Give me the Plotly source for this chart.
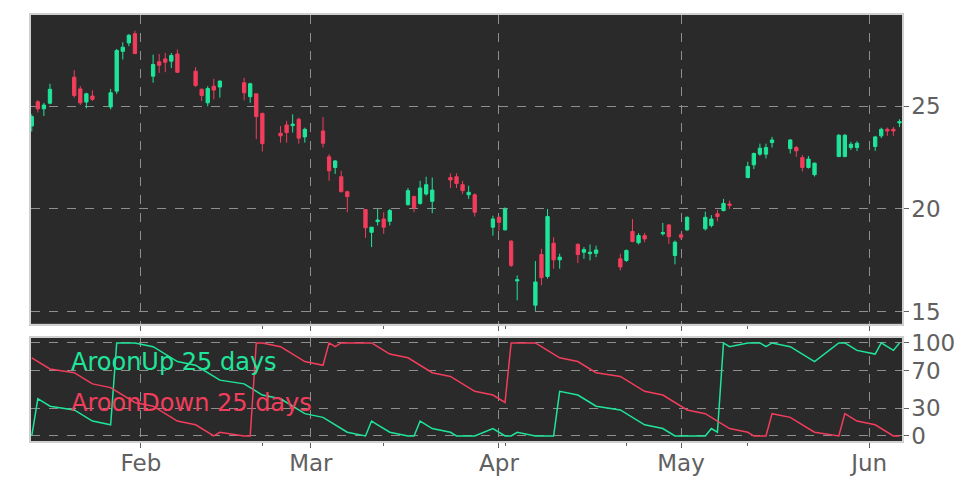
import plotly.graph_objects as go

# trading days shown on the chart (2025)
dates = [
    "2025-01-14", "2025-01-15", "2025-01-16", "2025-01-17", "2025-01-21", "2025-01-22", "2025-01-23",
    "2025-01-24", "2025-01-27", "2025-01-28", "2025-01-29", "2025-01-30", "2025-01-31",
    "2025-02-03", "2025-02-04", "2025-02-05", "2025-02-06", "2025-02-07", "2025-02-10", "2025-02-11",
    "2025-02-12", "2025-02-13", "2025-02-14", "2025-02-18", "2025-02-19", "2025-02-20", "2025-02-21",
    "2025-02-24", "2025-02-25", "2025-02-26", "2025-02-27", "2025-02-28",
    "2025-03-03", "2025-03-04", "2025-03-05", "2025-03-06", "2025-03-07", "2025-03-10", "2025-03-11",
    "2025-03-12", "2025-03-13", "2025-03-14", "2025-03-17", "2025-03-18", "2025-03-19", "2025-03-20",
    "2025-03-21", "2025-03-24", "2025-03-25", "2025-03-26", "2025-03-27", "2025-03-28", "2025-03-31",
    "2025-04-01", "2025-04-02", "2025-04-03", "2025-04-04", "2025-04-07", "2025-04-08", "2025-04-09",
    "2025-04-10", "2025-04-11", "2025-04-14", "2025-04-15", "2025-04-16", "2025-04-17", "2025-04-21",
    "2025-04-22", "2025-04-23", "2025-04-24", "2025-04-25", "2025-04-28", "2025-04-29", "2025-04-30",
    "2025-05-01", "2025-05-02", "2025-05-05", "2025-05-06", "2025-05-07", "2025-05-08", "2025-05-09",
    "2025-05-12", "2025-05-13", "2025-05-14", "2025-05-15", "2025-05-16", "2025-05-19", "2025-05-20",
    "2025-05-21", "2025-05-22", "2025-05-23", "2025-05-27", "2025-05-28", "2025-05-29", "2025-05-30",
    "2025-06-02", "2025-06-03", "2025-06-04", "2025-06-05", "2025-06-06",
]

open_ = [
    24.04, 25.22, 24.88, 25.15, 26.42, 25.85, 25.21, 25.50, 24.97, 25.74, 27.68, 28.09, 28.54,
    26.47, 27.17, 27.31, 27.20, 27.55, 26.71, 25.83, 25.17, 25.98, 25.94, 26.15, 25.47, 25.61, 24.66,
    23.69, 24.09, 24.06, 24.37, 23.51,
    23.80, 22.54, 22.02, 21.57, 20.84, 19.97, 18.86, 19.38, 19.51, 19.40, 20.21, 20.60, 20.27, 20.73,
    20.37, 21.53, 21.57, 21.18, 20.69, 20.69, 19.11,
    19.59, 18.98, 18.43, 16.49, 15.31, 17.78, 16.71, 18.33, 17.52, 18.27, 17.89, 17.82, 17.84, 17.57,
    17.49, 18.90, 18.35, 18.70, 18.79, 19.22, 17.73,
    18.74, 18.98, 19.03, 19.19, 19.76, 19.92, 20.24, 21.53, 22.15, 22.67, 22.67, 23.23, 22.94, 22.99,
    22.50, 22.02, 21.67, 22.55, 22.55, 22.99, 22.99,
    23.04, 23.56, 23.88, 23.88, 24.19,
]
high = [
    24.61, 25.30, 25.17, 26.10, 26.76, 25.98, 25.66, 25.78, 25.85, 27.80, 28.12, 28.52, 28.69,
    27.52, 27.55, 27.60, 27.60, 27.77, 26.91, 25.87, 25.98, 26.34, 26.26, 26.39, 26.15, 25.61, 24.66,
    24.04, 24.29, 24.61, 24.45, 23.96,
    24.48, 22.67, 22.38, 21.86, 20.89, 20.00, 19.11, 20.00, 19.84, 20.00, 21.02, 20.65, 21.37, 21.57,
    21.53, 21.73, 21.73, 21.37, 21.13, 20.76, 19.67,
    19.63, 20.08, 18.48, 16.76, 17.46, 18.06, 20.00, 18.62, 17.82, 18.33, 18.14, 18.27, 18.21, 17.82,
    18.02, 19.51, 18.82, 18.83, 19.32, 19.27, 18.46,
    18.80, 19.64, 19.87, 19.70, 19.95, 20.49, 20.40, 22.30, 22.75, 23.18, 23.18, 23.51, 23.40, 23.07,
    22.62, 22.58, 22.26, 23.65, 23.65, 23.27, 23.30,
    23.56, 23.96, 23.96, 23.99, 24.37,
]
low = [
    23.77, 24.70, 24.53, 25.10, 25.42, 25.06, 24.90, 25.26, 24.85, 25.60, 27.28, 27.93, 27.57,
    26.15, 26.63, 26.66, 26.87, 26.63, 25.94, 25.26, 25.00, 25.34, 25.42, 25.29, 25.17, 23.40, 22.80,
    23.23, 23.23, 23.72, 23.18, 23.23,
    22.99, 21.37, 21.70, 20.81, 19.84, 18.59, 18.14, 19.19, 18.79, 19.19, 20.16, 19.84, 20.21, 20.65,
    19.79, 21.02, 21.02, 20.73, 20.49, 19.63, 18.70,
    18.95, 18.95, 17.17, 15.55, 15.03, 16.28, 16.60, 17.09, 17.09, 17.36, 17.57, 17.49, 17.65, 17.00,
    17.42, 18.38, 18.27, 18.38, 18.70, 18.30, 17.30,
    18.50, 18.93, 18.95, 19.10, 19.40, 19.88, 20.00, 21.49, 21.94, 22.59, 22.46, 22.99, 22.70, 22.54,
    21.83, 21.97, 21.58, 22.55, 22.55, 22.87, 22.82,
    22.83, 23.45, 23.56, 23.56, 23.99,
]
close = [
    24.50, 24.88, 25.06, 25.83, 25.53, 25.17, 25.61, 25.34, 25.66, 27.72, 27.88, 28.46, 27.57,
    27.04, 27.00, 27.15, 27.48, 26.66, 26.02, 25.53, 25.87, 25.79, 26.23, 25.66, 26.10, 24.50, 23.18,
    23.56, 23.72, 24.13, 23.45, 23.88,
    23.20, 21.86, 22.34, 20.84, 20.60, 19.08, 19.11, 19.46, 19.11, 19.92, 20.89, 20.05, 21.02, 21.18,
    20.92, 21.41, 21.24, 20.89, 20.81, 19.84, 19.51,
    19.35, 20.00, 17.25, 16.55, 16.44, 16.65, 19.63, 17.52, 17.65, 17.78, 18.02, 17.89, 18.00, 17.17,
    17.98, 18.41, 18.70, 18.54, 18.84, 18.65, 18.38,
    18.62, 19.59, 19.59, 19.51, 19.63, 20.27, 20.18, 22.07, 22.70, 22.96, 22.99, 23.36, 23.36, 22.83,
    22.02, 22.43, 22.23, 23.59, 23.59, 23.15, 23.20,
    23.51, 23.88, 23.80, 23.80, 24.25,
]

aroon_up = [
    0, 40, 36, 32, 28, 24, 20, 16, 12, 100, 100, 100, 100,
    96, 92, 88, 84, 80, 76, 72, 68, 64, 60, 56, 52, 48, 44, 40, 36, 32, 28, 24,
    20, 16, 12, 8, 4, 0, 16, 12, 8, 4, 0, 0, 16, 12, 8, 4, 0, 0, 0, 0, 8,
    4, 0, 0, 4, 0, 0, 0, 0, 48, 44, 40, 36, 32, 28, 24, 20, 16, 12, 8, 4, 0,
    0, 0, 0, 8, 4, 100, 96, 100, 100, 100, 96, 100, 96, 92, 88, 84, 80, 100, 100, 96, 92,
    88, 100, 96, 92, 100,
]
aroon_down = [
    84, 80, 76, 72, 68, 64, 60, 56, 52, 48, 44, 40, 36,
    32, 28, 24, 20, 16, 12, 8, 4, 0, 4, 0, 0, 100, 100, 96, 92, 88, 84, 80,
    76, 100, 96, 100, 100, 100, 100, 96, 92, 88, 84, 80, 76, 72, 68, 64, 60, 56, 52, 48, 44,
    40, 36, 100, 100, 100, 96, 92, 88, 84, 80, 76, 72, 68, 64, 60, 56, 52, 48, 44, 40, 36,
    32, 28, 24, 20, 16, 12, 8, 4, 0, 0, 0, 24, 20, 16, 12, 8, 4, 0, 24, 20, 16,
    12, 8, 4, 0, 0,
]

up_color = "#1fe59a"
down_color = "#f23d5c"
grid_color = "#8e8e8e"
text_color = "#606060"
frame_color = "#cfcfcf"

fig = go.Figure()
fig.add_trace(go.Candlestick(
    x=dates, open=open_, high=high, low=low, close=close,
    increasing=dict(line=dict(color=up_color, width=1), fillcolor=up_color),
    decreasing=dict(line=dict(color=down_color, width=1), fillcolor=down_color),
    whiskerwidth=0, showlegend=False, xaxis="x", yaxis="y"))
fig.add_trace(go.Scatter(x=dates, y=aroon_up, mode="lines", line=dict(color=up_color, width=1.5),
                         showlegend=False, xaxis="x2", yaxis="y2"))
fig.add_trace(go.Scatter(x=dates, y=aroon_down, mode="lines", line=dict(color=down_color, width=1.5),
                         showlegend=False, xaxis="x2", yaxis="y2"))

x_range = ["2025-01-13 21:00", "2025-06-06 10:00"]
common_x = dict(type="date", range=x_range, tick0="2025-02-01", dtick="M1", tickformat="%b",
                showgrid=True, gridcolor=grid_color, griddash="dash", gridwidth=1,
                ticks="outside", ticklen=5, tickcolor=text_color,
                showline=True, mirror=True, linecolor=frame_color, linewidth=1.5,
                minor=dict(ticks="outside", ticklen=3, tickcolor=text_color,
                           tick0="2025-02-01", dtick=20 * 86400000, showgrid=False),
                tickfont=dict(family="DejaVu Sans", size=23, color=text_color),
                zeroline=False, automargin=False)
common_y = dict(side="right", showgrid=True, gridcolor=grid_color, griddash="dash", gridwidth=1,
                ticks="outside", ticklen=5, tickcolor=text_color,
                showline=True, mirror=True, linecolor=frame_color, linewidth=1.5,
                tickfont=dict(family="DejaVu Sans", size=23, color=text_color),
                zeroline=False, automargin=False)

# page body keeps its default 8px margin, so the figure is 8px smaller than the window
fig.update_layout(
    width=964, height=478,
    margin=dict(l=23, r=70, t=7, b=45),
    paper_bgcolor="white", plot_bgcolor="#2a2a2a",
    boxgap=0.22,
    xaxis=dict(common_x, domain=[0, 1], anchor="y", showticklabels=False,
               rangeslider=dict(visible=False)),
    yaxis=dict(common_y, domain=[0.275, 1], anchor="x", range=[14.4, 29.45],
               tickvals=[15, 20, 25], ticklabelstandoff=-2),
    xaxis2=dict(common_x, domain=[0, 1], anchor="y2", matches="x", ticklabelstandoff=-4),
    yaxis2=dict(common_y, domain=[0, 0.242], anchor="x2", range=[-5.4, 105.4],
                tickvals=[0, 30, 70, 100], ticklabelstandoff=-2),
    annotations=[
        dict(text="AroonUp 25 days", xref="x2 domain", yref="y2 domain", x=0.044, y=0.77,
             xanchor="left", yanchor="middle", showarrow=False,
             font=dict(family="DejaVu Sans", size=24, color=up_color)),
        dict(text="AroonDown 25 days", xref="x2 domain", yref="y2 domain", x=0.044, y=0.37,
             xanchor="left", yanchor="middle", showarrow=False,
             font=dict(family="DejaVu Sans", size=24, color=down_color)),
    ],
)

fig.write_html("out.html")
